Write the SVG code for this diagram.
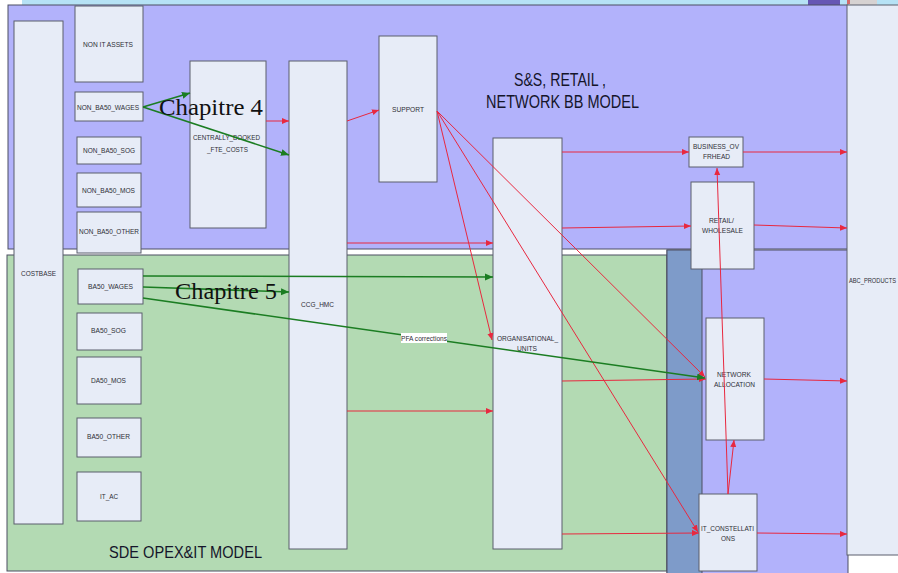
<svg xmlns="http://www.w3.org/2000/svg" width="898" height="573" viewBox="0 0 898 573">
<defs>
<style>
.node rect{fill:#e7ecf7;stroke:#5b5f6c;stroke-width:1}
.lbl{font-family:"Liberation Sans",Arial,sans-serif;font-size:8px;fill:#2e2e36}
.title{font-family:"Liberation Sans",Arial,sans-serif;fill:#15152a}
.chap{font-family:"Liberation Serif","Times New Roman",serif;font-size:23px;fill:#111}
.r{stroke:#e8283f;stroke-width:1;fill:none;marker-end:url(#ar)}
.g{stroke:#1b7d22;stroke-width:1.6;fill:none;marker-end:url(#ag)}
.region{stroke:#4d4f63;stroke-width:1}
</style>
<marker id="ar" markerUnits="userSpaceOnUse" markerWidth="8" markerHeight="8" refX="7" refY="4" orient="auto">
<path d="M0,1 L7,4 L0,7 Z" fill="#e8283f"/>
</marker>
<marker id="ag" markerUnits="userSpaceOnUse" markerWidth="10" markerHeight="10" refX="8" refY="5" orient="auto">
<path d="M0,1.5 L8,5 L0,8.5 Z" fill="#1b7d22"/>
</marker>
</defs>
<rect x="0" y="0" width="898" height="573" fill="#ffffff"/>
<rect x="22" y="0" width="876" height="6" fill="#b6e2f5"/>
<rect x="808" y="0" width="32" height="5" fill="#6656b4"/>
<rect x="847" y="0" width="30" height="5" fill="#d6d2d2"/>
<rect x="847" y="0" width="3" height="4" fill="#d46a6a"/>

<g id="regions">
<rect class="region" x="8" y="5" width="840" height="244" fill="#b2b2fb"/>
<rect class="region" x="7" y="255" width="660" height="316" fill="#b3dab3"/>
<rect class="region" x="667" y="250" width="181" height="330" fill="#b2b2fb"/>
<rect class="region" x="667" y="250" width="35" height="330" fill="#7e9bc9"/>
<text class="title" x="514" y="86" font-size="19" textLength="92" lengthAdjust="spacingAndGlyphs">S&amp;S, RETAIL ,</text>
<text class="title" x="486" y="108" font-size="19" textLength="153" lengthAdjust="spacingAndGlyphs">NETWORK BB MODEL</text>
<text class="title" x="109" y="558" font-size="17" textLength="153" lengthAdjust="spacingAndGlyphs">SDE OPEX&amp;IT MODEL</text>
</g>

<g id="costbase" class="node"><rect x="14" y="21" width="49" height="503"/><text class="lbl" x="21" y="276" textLength="35" lengthAdjust="spacingAndGlyphs">COSTBASE</text></g>
<g id="non_it_assets" class="node"><rect x="75" y="6" width="68" height="76"/><text class="lbl" x="83" y="47" textLength="50" lengthAdjust="spacingAndGlyphs">NON IT ASSETS</text></g>
<g id="non_ba50_wages" class="node"><rect x="75" y="92" width="68" height="29"/><text class="lbl" x="77" y="110" textLength="62" lengthAdjust="spacingAndGlyphs">NON_BA50_WAGES</text></g>
<g id="non_ba50_sog" class="node"><rect x="77" y="137" width="64" height="27"/><text class="lbl" x="83" y="153" textLength="52" lengthAdjust="spacingAndGlyphs">NON_BA50_SOG</text></g>
<g id="non_ba50_mos" class="node"><rect x="77" y="173" width="64" height="34"/><text class="lbl" x="82" y="193" textLength="53" lengthAdjust="spacingAndGlyphs">NON_BA50_MOS</text></g>
<g id="non_ba50_other" class="node"><rect x="77" y="212" width="64" height="41"/><text class="lbl" x="79" y="234" textLength="60" lengthAdjust="spacingAndGlyphs">NON_BA50_OTHER</text></g>
<g id="centrally_booked" class="node"><rect x="190" y="61" width="76" height="167"/><text class="lbl" x="193" y="140" textLength="67" lengthAdjust="spacingAndGlyphs">CENTRALLY_BOOKED</text><text class="lbl" x="207" y="152" textLength="41" lengthAdjust="spacingAndGlyphs">_FTE_COSTS</text></g>
<g id="ccg_hmc" class="node"><rect x="289" y="61" width="58" height="488"/><text class="lbl" x="301" y="307" textLength="33" lengthAdjust="spacingAndGlyphs">CCG_HMC</text></g>
<g id="support" class="node"><rect x="379" y="36" width="58" height="146"/><text class="lbl" x="392" y="112" textLength="32" lengthAdjust="spacingAndGlyphs">SUPPORT</text></g>
<g id="organisational_units" class="node"><rect x="493" y="138" width="69" height="411"/><text class="lbl" x="497" y="341" textLength="61" lengthAdjust="spacingAndGlyphs">ORGANISATIONAL_</text><text class="lbl" x="517" y="351" textLength="20" lengthAdjust="spacingAndGlyphs">UNITS</text></g>
<g id="business_overhead" class="node"><rect x="689" y="137" width="54" height="30"/><text class="lbl" x="693" y="149" textLength="46" lengthAdjust="spacingAndGlyphs">BUSINESS_OV</text><text class="lbl" x="703" y="159" textLength="27" lengthAdjust="spacingAndGlyphs">FRHEAD</text></g>
<g id="retail_wholesale" class="node"><rect x="691" y="182" width="63" height="87"/><text class="lbl" x="709" y="223" textLength="25" lengthAdjust="spacingAndGlyphs">RETAIL/</text><text class="lbl" x="702" y="233" textLength="41" lengthAdjust="spacingAndGlyphs">WHOLESALE</text></g>
<g id="network_allocation" class="node"><rect x="706" y="318" width="58" height="122"/><text class="lbl" x="717" y="377" textLength="34" lengthAdjust="spacingAndGlyphs">NETWORK</text><text class="lbl" x="714" y="387" textLength="41" lengthAdjust="spacingAndGlyphs">ALLOCATION</text></g>
<g id="it_constellations" class="node"><rect x="699" y="494" width="58" height="77"/><text class="lbl" x="701" y="531" textLength="53" lengthAdjust="spacingAndGlyphs">IT_CONSTELLATI</text><text class="lbl" x="721" y="541" textLength="14" lengthAdjust="spacingAndGlyphs">ONS</text></g>
<g id="abc_products" class="node"><rect x="847" y="5" width="60" height="550"/><text class="lbl" x="849" y="283" textLength="47" lengthAdjust="spacingAndGlyphs">ABC_PRODUCTS</text></g>
<g id="ba50_wages" class="node"><rect x="78" y="269" width="65" height="35"/><text class="lbl" x="88" y="289" textLength="45" lengthAdjust="spacingAndGlyphs">BA50_WAGES</text></g>
<g id="ba50_sog" class="node"><rect x="77" y="313" width="65" height="37"/><text class="lbl" x="91" y="333" textLength="35" lengthAdjust="spacingAndGlyphs">BA50_SOG</text></g>
<g id="da50_mos" class="node"><rect x="77" y="357" width="64" height="47"/><text class="lbl" x="91" y="383" textLength="35" lengthAdjust="spacingAndGlyphs">DA50_MOS</text></g>
<g id="ba50_other" class="node"><rect x="77" y="418" width="64" height="39"/><text class="lbl" x="87" y="439" textLength="43" lengthAdjust="spacingAndGlyphs">BA50_OTHER</text></g>
<g id="it_ac" class="node"><rect x="77" y="472" width="64" height="49"/><text class="lbl" x="100" y="499" textLength="18" lengthAdjust="spacingAndGlyphs">IT_AC</text></g>

<g id="connectors">
<line class="r" x1="266" y1="121" x2="289" y2="121"/>
<line class="r" x1="347" y1="121" x2="379" y2="110"/>
<line class="r" x1="347" y1="243" x2="493" y2="243"/>
<line class="r" x1="347" y1="411" x2="493" y2="411"/>
<line class="r" x1="437" y1="111" x2="492" y2="340"/>
<line class="r" x1="437" y1="111" x2="705" y2="377"/>
<line class="r" x1="437" y1="111" x2="698" y2="532"/>
<line class="r" x1="562" y1="152" x2="689" y2="152"/>
<line class="r" x1="562" y1="228" x2="691" y2="226"/>
<line class="r" x1="562" y1="381" x2="706" y2="379"/>
<line class="r" x1="562" y1="534" x2="699" y2="533"/>
<line class="r" x1="743" y1="152" x2="847" y2="152"/>
<line class="r" x1="754" y1="225" x2="847" y2="228"/>
<line class="r" x1="764" y1="379" x2="847" y2="381"/>
<line class="r" x1="757" y1="533" x2="847" y2="534"/>
<line class="r" x1="728" y1="494" x2="717" y2="168"/>
<line class="r" x1="728" y1="494" x2="734" y2="440"/>
<line class="g" x1="143" y1="107" x2="190" y2="93"/>
<line class="g" x1="143" y1="107" x2="289" y2="155"/>
<line class="g" x1="143" y1="276" x2="493" y2="277"/>
<line class="g" x1="143" y1="287" x2="289" y2="292"/>
<line class="g" x1="143" y1="298" x2="705" y2="378"/>
<rect x="401" y="333" width="46" height="10" fill="#ffffff"/>
<text class="lbl" x="401" y="341" font-size="7" textLength="46" lengthAdjust="spacingAndGlyphs">PFA corrections</text>
</g>

<text class="chap" x="159" y="115" textLength="104" lengthAdjust="spacingAndGlyphs">Chapitre 4</text>
<text class="chap" x="175" y="299" textLength="102" lengthAdjust="spacingAndGlyphs">Chapitre 5</text>
</svg>
